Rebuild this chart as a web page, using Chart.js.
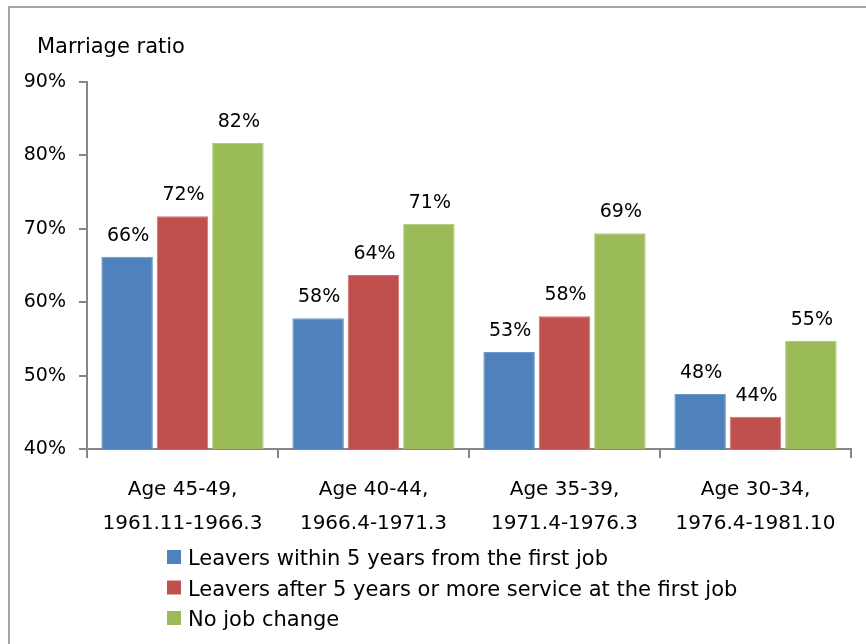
<!DOCTYPE html>
<html>
<head>
<meta charset="utf-8">
<script src="https://cdn.jsdelivr.net/npm/chart.js@4"></script>
<style>
  html, body { margin: 0; padding: 0; background: #fff; overflow: hidden; }
  #wrap { position: relative; width: 866px; height: 644px; }
  #frame { position: absolute; left: 8px; top: 6px; width: 900px; height: 700px; border: 2px solid #a6a6a6; box-sizing: border-box; }
  canvas { position: absolute; left: 0; top: 0; }
</style>
</head>
<body>
<div id="wrap">
  <div id="frame"></div>
  <canvas id="chart" width="866" height="644"></canvas>
</div>
<script>
const categories = [
    ['Age 45-49,', '1961.11-1966.3'],
    ['Age 40-44,', '1966.4-1971.3'],
    ['Age 35-39,', '1971.4-1976.3'],
    ['Age 30-34,', '1976.4-1981.10']
];
const seriesNames = [
    'Leavers within 5 years from the first job',
    'Leavers after 5 years or more service at the first job',
    'No job change'
];
const within5 = [66.2, 57.8, 53.2, 47.5];
const after5 = [71.7, 63.7, 58.1, 44.4];
const noChange = [81.7, 70.7, 69.4, 54.7];
const yTicks = [40, 50, 60, 70, 80, 90];

const colors = ['#4F81BD', '#C0504D', '#9BBB59'];
const borders = ['#6f97c9', '#cc716e', '#b0ca7c'];
const FONT = '"DejaVu Sans", sans-serif';

// value labels over each bar
const barLabels = {
    id: 'barLabels',
    afterDatasetsDraw(chart) {
        const ctx = chart.ctx;
        ctx.save();
        ctx.font = '19px ' + FONT;
        ctx.fillStyle = '#000';
        ctx.textAlign = 'center';
        ctx.textBaseline = 'alphabetic';
        chart.data.datasets.forEach((ds, i) => {
            chart.getDatasetMeta(i).data.forEach((bar, j) => {
                ctx.fillText(Math.round(ds.data[j]) + '%', bar.x + 1, bar.y - 16);
            });
        });
        ctx.restore();
    }
};

// axis title and stacked legend
const extras = {
    id: 'extras',
    afterDraw(chart) {
        const ctx = chart.ctx;
        ctx.save();
        ctx.font = '21px ' + FONT;
        ctx.fillStyle = '#000';
        ctx.textBaseline = 'alphabetic';
        ctx.fillText('Marriage ratio', 37, 53);

        chart.data.datasets.forEach((ds, i) => {
            const y = 557 + i * 30.5;
            ctx.fillStyle = ds.backgroundColor;
            ctx.fillRect(167, y - 7, 14, 14);
            ctx.fillStyle = '#000';
            ctx.fillText(ds.label, 188, y + 8);
        });
        ctx.restore();
    }
};

new Chart(document.getElementById('chart'), {
    type: 'bar',
    data: {
        labels: categories,
        datasets: [within5, after5, noChange].map((d, i) => ({
            label: seriesNames[i],
            data: d,
            backgroundColor: colors[i],
            borderColor: borders[i],
            borderWidth: 1,
            categoryPercentage: 0.87,
            barPercentage: 0.93
        }))
    },
    options: {
        responsive: false,
        animation: false,
        layout: { padding: { top: 82, right: 15, bottom: 105, left: 0 } },
        plugins: {
            legend: { display: false },
            tooltip: { enabled: false }
        },
        scales: {
            x: {
                grid: { offset: true, drawOnChartArea: false, tickLength: 9, color: '#868686', lineWidth: 2 },
                border: { color: '#868686', width: 2 },
                ticks: { color: '#000', font: { family: FONT, size: 20, lineHeight: 1.7 }, padding: 15, maxRotation: 0 },
                afterFit(scale) { scale.height = 90; }
            },
            y: {
                min: 40,
                max: 90,
                afterBuildTicks(scale) { scale.ticks = yTicks.map(v => ({ value: v })); },
                grid: { drawOnChartArea: false, tickLength: 8, color: '#868686', lineWidth: 2 },
                border: { color: '#868686', width: 2 },
                ticks: { color: '#000', font: { family: FONT, size: 19 }, padding: 13, callback: v => v + '%' },
                afterFit(scale) { scale.width = 87; }
            }
        }
    },
    plugins: [barLabels, extras]
});
</script>
</body>
</html>
